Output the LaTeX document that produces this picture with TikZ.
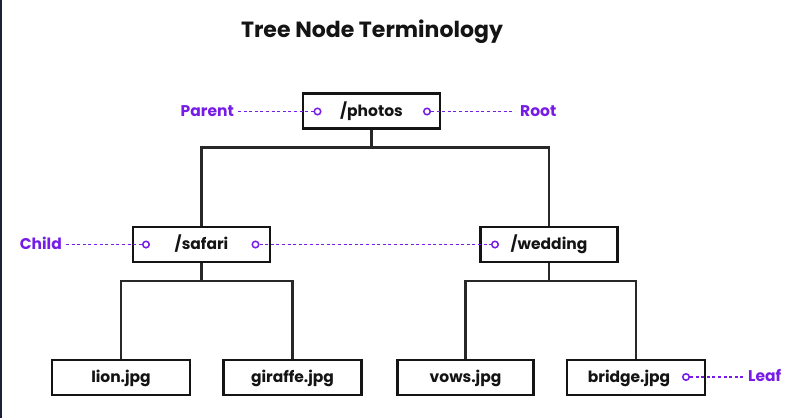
\documentclass[tikz,border=0pt]{standalone}
\usepackage{fontspec}
\setmainfont{Poppins}
\definecolor{accent}{RGB}{118,28,230}
\definecolor{edge}{RGB}{27,31,58}
\definecolor{ink}{RGB}{20,20,20}
\definecolor{wire}{RGB}{40,40,40}
\begin{document}
\begin{tikzpicture}[x=1pt,y=-1pt,
  dirbox/.style={draw=ink,line width=2.2pt,fill=white,minimum width=137pt,minimum height=35pt,
    inner sep=0pt,text height=12pt,text depth=2pt,font=\bfseries\fontsize{15.5}{18}\selectfont,text=ink},
  tag/.style={inner sep=0pt,font=\bfseries\fontsize{15.5}{18}\selectfont,text=accent},
  pin/.style={circle,draw=accent,fill=white,line width=1.5pt,minimum size=6.5pt,inner sep=0pt},
  guide/.style={accent,line width=1.5pt,dash pattern=on 3pt off 2.6pt},
  branch/.style={wire,line width=2.2pt}]
\useasboundingbox (0,0) rectangle (800,418);
\fill[white] (0,0) rectangle (800,418);
\fill[edge] (0,0) rectangle (2,418);

% title
\node[font=\bfseries\fontsize{22}{26}\selectfont,text=ink,anchor=base] (title) at (372,37) {Tree Node Terminology};

% tree boxes
\node[dirbox] (photos) at (371.5,111) {/photos};
\node[dirbox] (safari) at (201.5,244.5) {/safari};
\node[dirbox] (wedding) at (549,244.5) {/wedding};
\node[dirbox,minimum width=138pt] (lion) at (121,377.5) {lion.jpg};
\node[dirbox,minimum width=138pt] (giraffe) at (292.5,377.5) {giraffe.jpg};
\node[dirbox,minimum width=136pt] (vows) at (465.5,377.5) {vows.jpg};
\node[dirbox,minimum width=138pt] (bridge) at (636,377.5) {\hspace*{-14pt}bridge.jpg};

% branches
\coordinate (j1) at (371.5,147.5);
\coordinate (j2) at (201.5,281);
\coordinate (j3) at (549,281);
\draw[branch] (photos.south) -- (j1);
\draw[branch] (safari.north) |- (j1) -| (wedding.north);
\draw[branch] (safari.south) -- (j2);
\draw[branch] (lion.north) |- (j2) -| (giraffe.north);
\draw[branch] (wedding.south) -- (j3);
\draw[branch] (vows.north) |- (j3) -| (bridge.north);

% terminology labels
\node[tag,anchor=base east] (parent) at (234,116) {Parent};
\node[tag,anchor=base west] (root) at (520,116) {Root};
\node[tag,anchor=base east] (child) at (62,249) {Child};
\node[tag,anchor=base west] (leaf) at (748,381) {Leaf};

\node[pin] (p1) at (317.5,111.5) {};
\node[pin] (p2) at (427,111.5) {};
\node[pin] (p3) at (146,244.5) {};
\node[pin] (p4) at (255.5,244.5) {};
\node[pin] (p5) at (495,244.5) {};
\node[pin] (p6) at (686,377) {};

\draw[guide] ([xshift=4pt]parent.east |- p1) -- (p1.west);
\draw[guide] (p2.east) -- ([xshift=-5pt]root.west |- p2);
\draw[guide] ([xshift=4pt]child.east |- p3) -- (p3.west);
\draw[guide] (p4.east) -- (p5.west);
\draw[guide] (p6.east) -- ([xshift=-5pt]leaf.west |- p6);
\end{tikzpicture}
\end{document}
